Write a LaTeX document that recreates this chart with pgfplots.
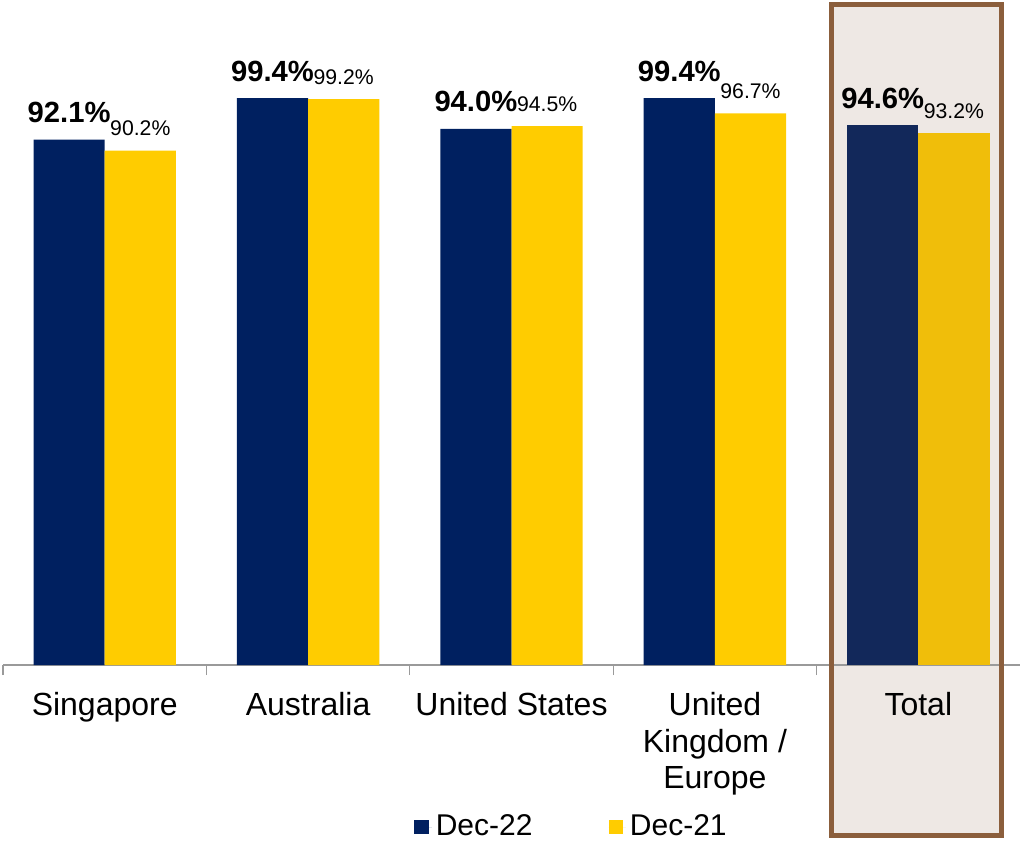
\documentclass[border=0pt]{standalone}
\usepackage{fontspec}
\setmainfont{Liberation Sans}
\usepackage{pgfplots}
\pgfplotsset{compat=1.18}
\definecolor{navy}{HTML}{002060}
\definecolor{gold}{HTML}{FFCC00}
\definecolor{navyT}{HTML}{12285A}
\definecolor{goldT}{HTML}{F0BE0A}
\definecolor{boxfill}{HTML}{EEE8E4}
\definecolor{boxedge}{HTML}{8B5E3C}
\definecolor{axgray}{HTML}{9A9A9A}
\pgfplotsset{
  bigl/.style={nodes near coords={\pgfmathprintnumber[fixed,fixed zerofill,precision=1]{\pgfplotspointmeta}\%},
    every node near coord/.append style={font=\bfseries\fontsize{14.6}{16}\selectfont, anchor=south, text depth=0pt, inner sep=0pt, xshift=-17.8pt, yshift=8.3pt, text=black}},
  smalll/.style={nodes near coords={\pgfmathprintnumber[fixed,fixed zerofill,precision=1]{\pgfplotspointmeta}\%},
    every node near coord/.append style={font=\fontsize{10.6}{12}\selectfont, anchor=south, text depth=0pt, inner sep=0pt, xshift=17.8pt, yshift=7.2pt, text=black}},
}
\begin{document}
\begin{tikzpicture}
\useasboundingbox (0,0) rectangle (510pt,421pt);
\begin{scope}[x=0.5pt,y=-0.5pt,shift={(0pt,421pt)}]
  \fill[boxfill] (831.5,4.5) rectangle (1001.5,835.5);
\end{scope}
\begin{axis}[
  at={(1.5pt,88.5pt)}, anchor=south west,
  scale only axis, width=508.5pt, height=332.5pt,
  xmin=-0.5, xmax=4.5, ymin=0, ymax=116.6,
  axis x line*=bottom, axis y line=none,
  axis line style={axgray, line width=0.6pt, -},
  /pgf/number format/assume math mode=true,
  xtick={0,1,2,3,4},
  xticklabels={Singapore, Australia, United States, {United\\Kingdom /\\Europe}, Total},
  xticklabel style={align=center, font=\fontsize{16}{18.3}\selectfont, text=black, inner sep=0pt, yshift=-13.5pt},
  major tick length=0pt,
  minor xtick={-0.5,0.5,1.5,2.5,3.5},
  minor tick length=5pt, tick align=outside,
  minor tick style={axgray, line width=0.6pt},
  legend style={at={(0.5600,-0.2436)}, anchor=center, draw=none, fill=none,
    font=\fontsize{15}{17}\selectfont, legend columns=2,
    /tikz/every even column/.append style={column sep=36pt}},
  legend image code/.code={\fill[#1] (0pt,-3.7pt) rectangle (7.2pt,3.7pt); \path (0pt,0pt) -- (8.7pt,0pt);},
]
\addplot[ybar, bar width=0.35, bar shift=-0.175, fill=navy, draw=none, bigl]
  coordinates {(0,92.1) (1,99.4) (2,94.0) (3,99.4)};
\addplot[ybar, bar width=0.35, bar shift=0.175, fill=gold, draw=none, smalll]
  coordinates {(0,90.2) (1,99.2) (2,94.5) (3,96.7)};
\addplot[ybar, bar width=0.35, bar shift=-0.175, fill=navyT, draw=none, bigl, forget plot]
  coordinates {(4,94.6)};
\addplot[ybar, bar width=0.35, bar shift=0.175, fill=goldT, draw=none, smalll, forget plot]
  coordinates {(4,93.2)};
\legend{Dec-22, Dec-21}
\end{axis}
\begin{scope}[x=0.5pt,y=-0.5pt,shift={(0pt,421pt)}]
  \draw[boxedge, line width=2.5pt] (831.5,4.5) rectangle (1001.5,835.5);
\end{scope}
\end{tikzpicture}
\end{document}
